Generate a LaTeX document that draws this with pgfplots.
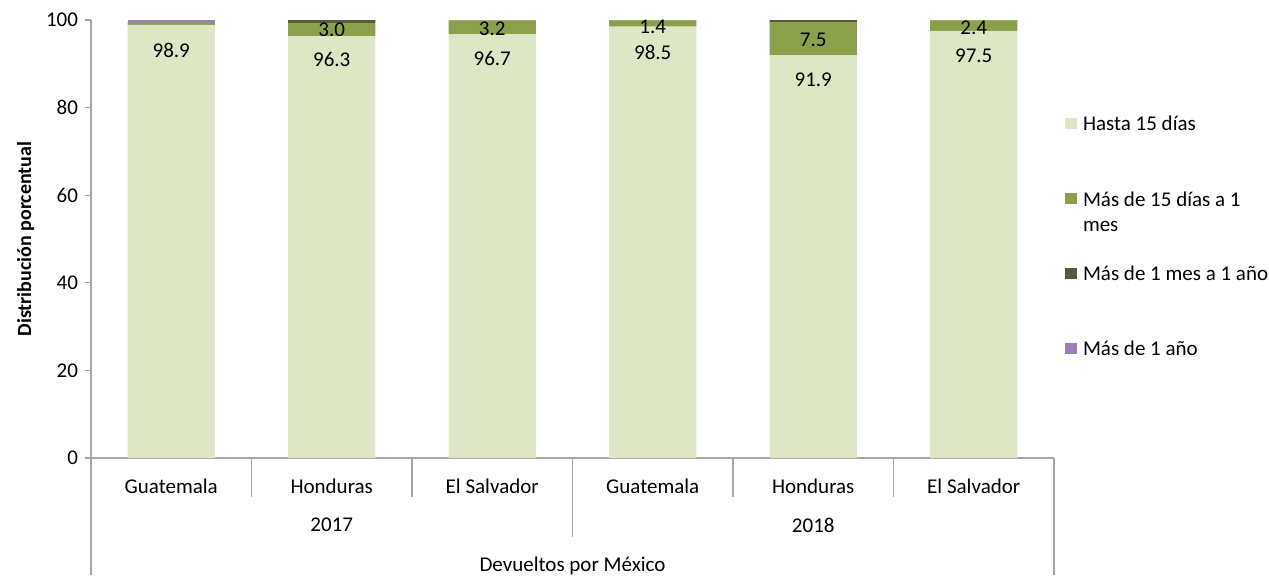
\documentclass[border=0pt]{standalone}
\usepackage{fontspec}
\setmainfont{Carlito}
\usepackage{pgfplots}
\usepackage{pgfplotstable}
\pgfplotsset{compat=1.18}

\definecolor{cHasta}{HTML}{DDE7C6}
\definecolor{cMes}{HTML}{8BA04B}
\definecolor{cAno}{HTML}{5E573A}
\definecolor{cMas}{HTML}{9A7EBA}
\definecolor{axgray}{HTML}{A6A6A6}

% x: 0-2 = 2017 (Guatemala, Honduras, El Salvador), 3-5 = 2018
\pgfplotstableread{
x hasta mes unano masano
0 98.9 0.5 0.0 0.6
1 96.3 3.0 0.7 0.0
2 96.7 3.2 0.1 0.0
3 98.5 1.4 0.1 0.0
4 91.9 7.5 0.6 0.0
5 97.5 2.4 0.1 0.0
}\datos

% label positions (value labels as shown on the bars)
\pgfplotstableread{
x y lab
0 93.0 98.9
1 90.9 96.3
2 91.2 96.7
3 92.6 98.5
4 86.3 91.9
5 91.9 97.5
1 97.7 3.0
2 97.9 3.2
3 98.4 1.4
4 95.4 7.5
5 98.3 2.4
}\etiquetas

\begin{document}
\begin{tikzpicture}[font=\fontsize{10.5}{12.5}\selectfont]
\path[use as bounding box] (-45.5pt,-58.5pt) rectangle (589pt,229pt);
\begin{axis}[
    at={(0,0)}, anchor=south west,
    scale only axis,
    width=481.5pt, height=219pt,
    xmin=-0.5, xmax=5.5, ymin=0, ymax=100,
    ybar stacked, bar width=43.5pt,
    axis lines*=left,
    axis line style={draw=axgray, line width=0.6pt},
    xtick=\empty,
    ytick={0,20,...,100},
    tick align=outside,
    major tick length=3pt,
    tick style={draw=axgray, line width=0.6pt},
    yticklabel style={font=\fontsize{10.5}{12.5}\selectfont},
    /pgf/number format/assume math mode=true,
    ylabel={\textbf{Distribución porcentual}},
    ylabel style={font=\fontsize{10}{12}\selectfont, yshift=-1pt},
    clip=false,
]
\addplot[fill=cHasta, draw=none] table[x=x, y=hasta] {\datos};
\addplot[fill=cMes, draw=none] table[x=x, y=mes] {\datos};
\addplot[fill=cAno, draw=none] table[x=x, y=unano] {\datos};
\addplot[fill=cMas, draw=none] table[x=x, y=masano] {\datos};

% category axis
\draw[axgray, line width=0.6pt] (axis cs:0.5,0) -- ([yshift=-19.5pt]axis cs:0.5,0);
\draw[axgray, line width=0.6pt] (axis cs:1.5,0) -- ([yshift=-19.5pt]axis cs:1.5,0);
\draw[axgray, line width=0.6pt] (axis cs:3.5,0) -- ([yshift=-19.5pt]axis cs:3.5,0);
\draw[axgray, line width=0.6pt] (axis cs:4.5,0) -- ([yshift=-19.5pt]axis cs:4.5,0);
\draw[axgray, line width=0.6pt] (axis cs:2.5,0) -- ([yshift=-39.5pt]axis cs:2.5,0);
\draw[axgray, line width=0.6pt] (axis cs:-0.5,0) -- ([yshift=-58.5pt]axis cs:-0.5,0);
\draw[axgray, line width=0.6pt] (axis cs:5.5,0) -- ([yshift=-58.5pt]axis cs:5.5,0);
\node at ([yshift=-14pt]axis cs:0,0) {Guatemala};
\node at ([yshift=-14pt]axis cs:1,0) {Honduras};
\node at ([yshift=-14pt]axis cs:2,0) {El Salvador};
\node at ([yshift=-14pt]axis cs:3,0) {Guatemala};
\node at ([yshift=-14pt]axis cs:4,0) {Honduras};
\node at ([yshift=-14pt]axis cs:5,0) {El Salvador};
\node at ([yshift=-33.5pt]axis cs:1,0) {2017};
\node at ([yshift=-33.5pt]axis cs:4,0) {2018};
\node at ([yshift=-54pt]axis cs:2.5,0) {Devueltos por México};
\end{axis}

\begin{axis}[
    at={(0,0)}, anchor=south west,
    scale only axis,
    width=481.5pt, height=219pt,
    xmin=-0.5, xmax=5.5, ymin=0, ymax=100,
    hide axis, clip=false,
]
\addplot[draw=none, mark=none, nodes near coords, point meta=explicit symbolic,
  every node near coord/.append style={anchor=center, font=\fontsize{10.5}{12.5}\selectfont, text=black}]
  table[x=x, y=y, meta=lab] {\etiquetas};
\end{axis}

% legend
\begin{scope}[every node/.style={anchor=west, align=left, inner sep=0pt}]
\fill[cHasta] (487.2pt,164.4pt) rectangle ++(5.7pt,5.7pt);
\node at (495.8pt,167.25pt) {Hasta 15 días};
\fill[cMes] (487.2pt,126.9pt) rectangle ++(5.7pt,5.7pt);
\node[anchor=north west] at (495.8pt,133pt) {Más de 15 días a 1\\mes};
\fill[cAno] (487.2pt,89.4pt) rectangle ++(5.7pt,5.7pt);
\node at (495.8pt,92.25pt) {Más de 1 mes a 1 año};
\fill[cMas] (487.2pt,51.9pt) rectangle ++(5.7pt,5.7pt);
\node at (495.8pt,54.75pt) {Más de 1 año};
\end{scope}
\end{tikzpicture}
\end{document}
